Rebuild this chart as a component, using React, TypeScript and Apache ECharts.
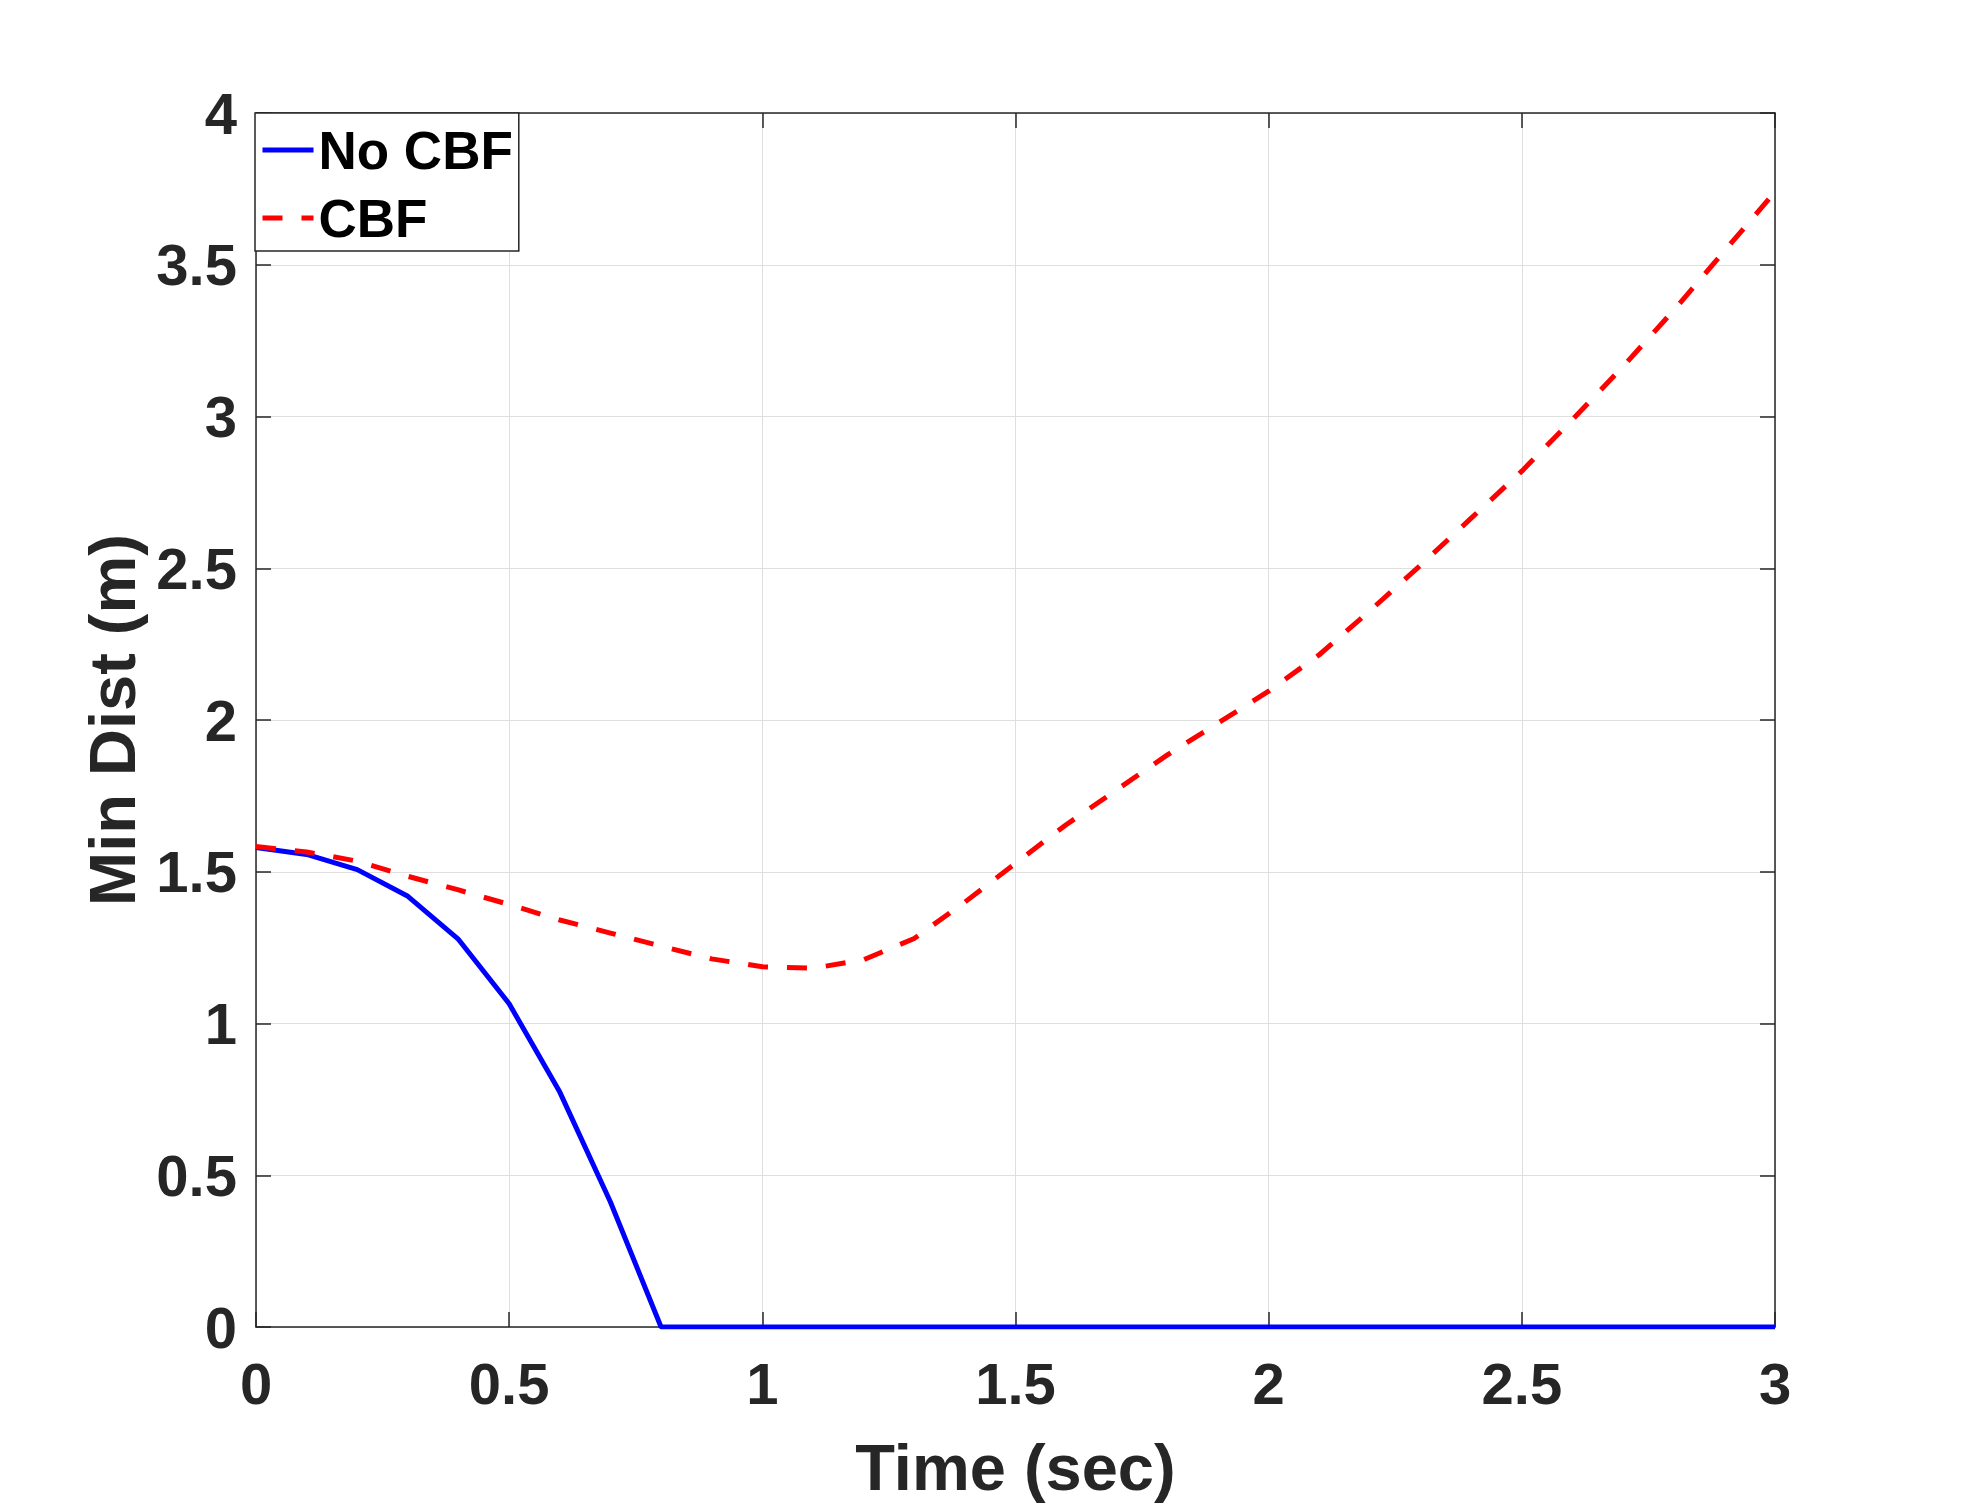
import React, { useEffect, useRef } from "react";
import * as echarts from "echarts";

const timeSec = [
  0, 0.1, 0.2, 0.3, 0.4, 0.5, 0.6, 0.7, 0.8, 0.9,
  1.0, 1.1, 1.2, 1.3, 1.4, 1.5, 1.6, 1.7, 1.8, 1.9,
  2.0, 2.1, 2.2, 2.3, 2.4, 2.5, 2.6, 2.7, 2.8, 2.9, 3.0,
];

const noCbfDist = [
  1.58, 1.557, 1.507, 1.419, 1.277, 1.065, 0.774, 0.412, 0, 0,
  0, 0, 0, 0, 0, 0, 0, 0, 0, 0,
  0, 0, 0, 0, 0, 0, 0, 0, 0, 0, 0,
];

const cbfDist = [
  1.583, 1.565, 1.535, 1.485, 1.44, 1.392, 1.341, 1.298, 1.255, 1.213,
  1.187, 1.182, 1.21, 1.28, 1.4, 1.528, 1.655, 1.77, 1.885, 1.99,
  2.095, 2.215, 2.36, 2.51, 2.665, 2.82, 2.99, 3.165, 3.35, 3.545, 3.74,
];

const seriesNames = ["No CBF", "CBF"];
const xLabel = "Time (sec)";
const yLabel = "Min Dist (m)";

const FONT = '"Liberation Sans", Arial, Helvetica, sans-serif';
const AXIS_COLOR = "#262626";
const BLUE = "#0000ff";
const RED = "#ff0000";
const DASH = [20, 19];

export default function App() {
  const ref = useRef<HTMLDivElement>(null);

  useEffect(() => {
    if (!ref.current) return;
    const chart = echarts.init(ref.current, undefined, { renderer: "svg" });

    const axisLine = { show: true, onZero: false, lineStyle: { color: AXIS_COLOR, width: 1.5 } };
    const axisTick = { show: true, inside: true, length: 15, lineStyle: { color: AXIS_COLOR, width: 1.5 } };
    const splitLine = { show: true, lineStyle: { color: "#dfdfdf", width: 1 } };
    const labelStyle = { fontSize: 58, fontWeight: "bold", color: AXIS_COLOR, fontFamily: FONT };
    const nameStyle = { fontSize: 65, fontWeight: "bold", color: AXIS_COLOR, fontFamily: FONT };

    chart.setOption({
      animation: false,
      backgroundColor: "#ffffff",
      grid: { left: 256, top: 113, right: 187, bottom: 175, containLabel: false },
      legend: {
        show: true,
        orient: "vertical",
        left: 255,
        top: 113,
        padding: [7, 6, 3, 5],
        itemGap: 8,
        itemWidth: 51,
        itemHeight: 14,
        backgroundColor: "#ffffff",
        borderColor: AXIS_COLOR,
        borderWidth: 1.5,
        borderRadius: 0,
        itemStyle: { opacity: 0 },
        textStyle: { fontSize: 53, fontWeight: "bold", color: "#000000", fontFamily: FONT, lineHeight: 60 },
        data: [
          { name: seriesNames[0], lineStyle: { color: BLUE, width: 5, type: "solid" } },
          { name: seriesNames[1], lineStyle: { color: RED, width: 5, type: DASH } },
        ],
      },
      xAxis: [
        {
          type: "value",
          min: 0,
          max: 3,
          interval: 0.5,
          position: "bottom",
          axisLine,
          axisTick,
          splitLine,
          axisLabel: { ...labelStyle, margin: 27 },
          name: xLabel,
          nameLocation: "middle",
          nameGap: 108,
          nameTextStyle: nameStyle,
        },
        {
          type: "value",
          min: 0,
          max: 3,
          interval: 0.5,
          position: "top",
          axisLine,
          axisTick,
          splitLine: { show: false },
          axisLabel: { show: false },
        },
      ],
      yAxis: [
        {
          type: "value",
          min: 0,
          max: 4,
          interval: 0.5,
          position: "left",
          axisLine,
          axisTick,
          splitLine,
          axisLabel: { ...labelStyle, margin: 19 },
          name: yLabel,
          nameLocation: "middle",
          nameGap: 111,
          nameTextStyle: nameStyle,
        },
        {
          type: "value",
          min: 0,
          max: 4,
          interval: 0.5,
          position: "right",
          axisLine,
          axisTick,
          splitLine: { show: false },
          axisLabel: { show: false },
        },
      ],
      series: [
        {
          name: seriesNames[0],
          type: "line",
          xAxisIndex: 0,
          yAxisIndex: 0,
          data: timeSec.map((t, i) => [t, noCbfDist[i]]),
          symbol: "none",
          showSymbol: false,
          lineStyle: { color: BLUE, width: 5, type: "solid" },
          itemStyle: { color: BLUE },
        },
        {
          name: seriesNames[1],
          type: "line",
          xAxisIndex: 0,
          yAxisIndex: 0,
          data: timeSec.map((t, i) => [t, cbfDist[i]]),
          symbol: "none",
          showSymbol: false,
          lineStyle: { color: RED, width: 5, type: DASH },
          itemStyle: { color: RED },
        },
      ],
    });

    return () => chart.dispose();
  }, []);

  return (
    <div
      ref={ref}
      style={{ position: "fixed", left: 0, top: 0, width: 1962, height: 1505, background: "#fff" }}
    />
  );
}
